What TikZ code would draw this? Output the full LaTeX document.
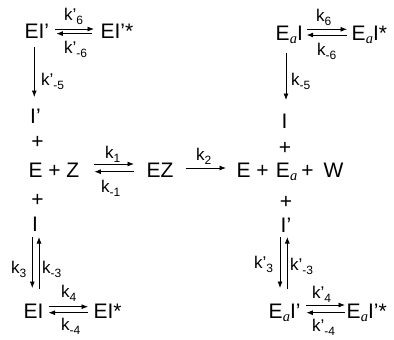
\documentclass[tikz,border=0pt]{standalone}
\usepackage{fontspec}
\setmainfont{Liberation Sans}
\newfontfamily\tms{Liberation Serif}
\usetikzlibrary{arrows.meta,calc}
\newcommand\Ea{E\hspace{0.3pt}\raisebox{-3pt}{\fontsize{14.5}{14.5}\selectfont\tms\itshape a}}
\newcommand\kl[2]{k#1\raisebox{-4pt}{\fontsize{12}{12}\selectfont #2}}
\begin{document}
\begin{tikzpicture}[x=1pt,y=-1pt,
  main/.style={font=\fontsize{21}{24}\selectfont, inner sep=0pt, anchor=base west},
  plus/.style={font=\fontsize{21}{24}\selectfont, inner sep=0pt, anchor=center},
  lab/.style={font=\fontsize{17}{19}\selectfont, inner sep=0pt, anchor=base west},
  arr/.style={-{Latex[length=6.5pt,width=5pt]}, line width=0.8pt}]
\useasboundingbox (0,0) rectangle (394,340);
% species
\node[main] (EIp) at (24.3,38.5) {EI’};
\node[main] (EIps) at (100.3,38.5) {EI’*};
\node[main] (EaI) at (275.3,40) {\Ea I};
\node[main] (EaIs) at (351.3,40) {\Ea I*};
\node[main] (Ip) at (30,123) {I’};
\node[plus] (p1) at (37.5,142.5) {+};
\node[main] (EZl) at (28.3,177.5) {E + Z};
\node[main] (EZ) at (146.3,177.5) {EZ};
\node[main] (prod) at (236.3,177.5) {E\hspace{5.8pt}+\hspace{7.2pt}\Ea\hspace{4pt}+\hspace{10pt}W};
\node[main] (Ir) at (281.5,128) {I};
\node[plus] (p2) at (285,148) {+};
\node[plus] (p3) at (37.5,200) {+};
\node[plus] (p4) at (286,202) {+};
\node[main] (Il) at (32,231) {I};
\node[main] (Ipr) at (280.5,232) {I’};
\node[main] (EI) at (23.3,318) {EI};
\node[main] (EIs) at (93.3,318) {EI*};
\node[main] (EaIp) at (268.3,318) {\Ea I'};
\node[main] (EaIps) at (346.3,318) {\Ea I'*};
% labels
\node[lab] (k6p) at (64,20) {\kl{’}{6}};
\node[lab] (km6p) at (64,53) {\kl{’}{-6}};
\node[lab] (km5p) at (41,85) {\kl{’}{-5}};
\node[lab] (k1) at (105,158) {\kl{}{1}};
\node[lab] (km1) at (101,192) {\kl{}{-1}};
\node[lab] (k2) at (196,160) {\kl{}{2}};
\node[lab] (k6) at (316,21) {\kl{}{6}};
\node[lab] (km6) at (317,55) {\kl{}{-6}};
\node[lab] (km5) at (291,85) {\kl{}{-5}};
\node[lab] (k3) at (11,273) {\kl{}{3}};
\node[lab] (km3) at (42,273) {\kl{}{-3}};
\node[lab] (k4) at (61,297) {\kl{}{4}};
\node[lab] (km4) at (61,330) {\kl{}{-4}};
\node[lab] (k3p) at (254,268) {\kl{’}{3}};
\node[lab] (km3p) at (290,270) {\kl{’}{-3}};
\node[lab] (k4p) at (312,298) {\kl{’}{4}};
\node[lab] (km4p) at (312,331) {\kl{’}{-4}};
% arrows top left
\draw[arr] ($(EIp.base east)+(6,-9.5)$) -- ($(EIps.base west)+(-6.3,-9.5)$);
\draw[arr] ($(EIps.base west)+(-8.3,-4.9)$) -- ($(EIp.base east)+(7.2,-4.9)$);
\draw[arr] ($(EIp.base west)+(10,8.5)$) -- ($(Ip.base west)+(4.3,-26)$);
% top right
\draw[arr] ($(EaI.base east)+(3.6,-10.7)$) -- ($(EaIs.base west)+(-4.3,-10.7)$);
\draw[arr] ($(EaIs.base west)+(-4.3,-5)$) -- ($(EaI.base east)+(3.6,-5)$);
\draw[arr] ($(EaI.base west)+(10.7,13)$) -- ($(Ir.base west)+(4.5,-28)$);
% middle
\draw[arr] ($(EZl.base east)+(14.9,-13.5)$) -- ($(EZ.base west)+(-12.3,-13.5)$);
\draw[arr] ($(EZ.base west)+(-12.3,-5.8)$) -- ($(EZl.base east)+(14.9,-5.8)$);
\draw[arr] ($(EZ.base east)+(12.9,-9.5)$) -- ($(prod.base west)+(-10.3,-9.5)$);
% bottom left
\draw[arr] ($(Il.base west)+(0.3,6)$) -- ($(EI.base west)+(9,-30)$);
\draw[arr] ($(EI.base west)+(15.7,-29)$) -- ($(Il.base west)+(7,6)$);
\draw[arr] ($(EI.base east)+(5,-11.3)$) -- ($(EIs.base west)+(-5.3,-11.3)$);
\draw[arr] ($(EIs.base west)+(-5.3,-5.3)$) -- ($(EI.base east)+(5,-5.3)$);
% bottom right
\draw[arr] ($(Ipr.base west)+(-0.5,5)$) -- ($(EaIp.base west)+(11.7,-30)$);
\draw[arr] ($(EaIp.base west)+(19,-29)$) -- ($(Ipr.base west)+(6.8,5)$);
\draw[arr] ($(EaIp.base east)+(5.6,-13)$) -- ($(EaIps.base west)+(-1.3,-13)$);
\draw[arr] ($(EaIps.base west)+(-1.3,-5.3)$) -- ($(EaIp.base east)+(5.6,-5.3)$);
\end{tikzpicture}
\end{document}
